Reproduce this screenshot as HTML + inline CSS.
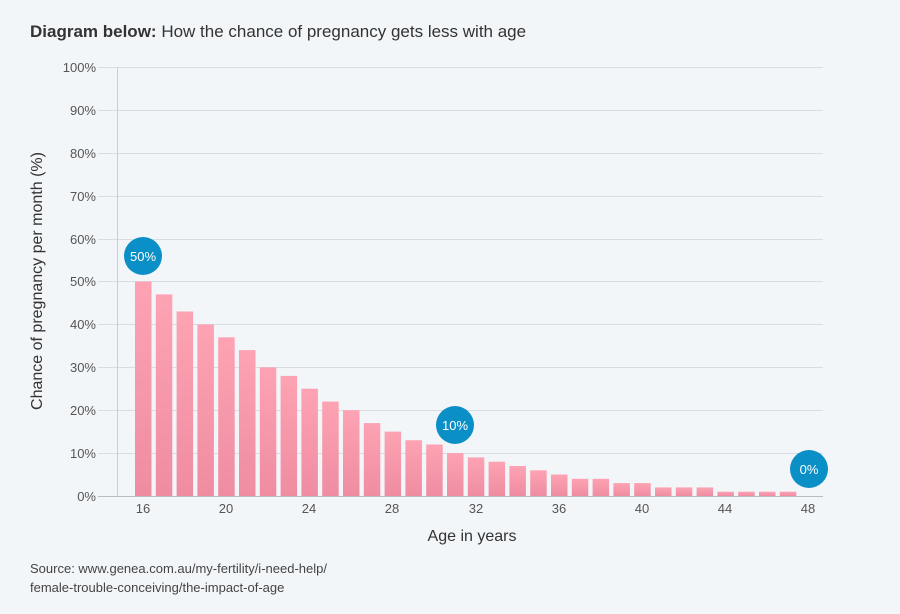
<!DOCTYPE html><html><head><style>body{margin:0;background:#f3f6f9;font-family:"Liberation Sans",sans-serif}</style></head><body>
<svg width="900" height="614" xmlns="http://www.w3.org/2000/svg" font-family="Liberation Sans, sans-serif" style="display:block">
<defs><linearGradient id="g" x1="0" y1="0" x2="0" y2="1"><stop offset="0" stop-color="#fda3b3"/><stop offset="1" stop-color="#ef8ca2"/></linearGradient></defs>
<rect width="900" height="614" fill="#f3f6f9"/>
<text x="30" y="37" font-size="17" fill="#333"><tspan font-weight="bold">Diagram below:</tspan> How the chance of pregnancy gets less with age</text>
<g stroke="#d9dde2" stroke-width="1">
<line x1="98" x2="823" y1="67.5" y2="67.5"/><line x1="98" x2="823" y1="110.5" y2="110.5"/><line x1="98" x2="823" y1="153.5" y2="153.5"/><line x1="98" x2="823" y1="196.5" y2="196.5"/><line x1="98" x2="823" y1="239.5" y2="239.5"/><line x1="98" x2="823" y1="281.5" y2="281.5"/><line x1="98" x2="823" y1="324.5" y2="324.5"/><line x1="98" x2="823" y1="367.5" y2="367.5"/><line x1="98" x2="823" y1="410.5" y2="410.5"/><line x1="98" x2="823" y1="453.5" y2="453.5"/></g>
<line x1="98" x2="823" y1="496.5" y2="496.5" stroke="#bbb"/>
<line x1="117.5" x2="117.5" y1="67" y2="496" stroke="#ccc"/>
<g font-size="13" fill="#555" text-anchor="end">
<text x="96" y="72">100%</text><text x="96" y="115">90%</text><text x="96" y="158">80%</text><text x="96" y="201">70%</text><text x="96" y="244">60%</text><text x="96" y="286">50%</text><text x="96" y="329">40%</text><text x="96" y="372">30%</text><text x="96" y="415">20%</text><text x="96" y="458">10%</text><text x="96" y="501">0%</text></g>
<g fill="url(#g)">
<rect x="135.0" y="281.5" width="16.5" height="214.5"/>
<rect x="155.8" y="294.4" width="16.5" height="201.6"/>
<rect x="176.6" y="311.5" width="16.5" height="184.5"/>
<rect x="197.4" y="324.4" width="16.5" height="171.6"/>
<rect x="218.2" y="337.3" width="16.5" height="158.7"/>
<rect x="239.0" y="350.1" width="16.5" height="145.9"/>
<rect x="259.8" y="367.3" width="16.5" height="128.7"/>
<rect x="280.6" y="375.9" width="16.5" height="120.1"/>
<rect x="301.4" y="388.7" width="16.5" height="107.3"/>
<rect x="322.2" y="401.6" width="16.5" height="94.4"/>
<rect x="343.0" y="410.2" width="16.5" height="85.8"/>
<rect x="363.8" y="423.1" width="16.5" height="72.9"/>
<rect x="384.6" y="431.6" width="16.5" height="64.4"/>
<rect x="405.4" y="440.2" width="16.5" height="55.8"/>
<rect x="426.2" y="444.5" width="16.5" height="51.5"/>
<rect x="447.0" y="453.1" width="16.5" height="42.9"/>
<rect x="467.8" y="457.4" width="16.5" height="38.6"/>
<rect x="488.6" y="461.7" width="16.5" height="34.3"/>
<rect x="509.4" y="466.0" width="16.5" height="30.0"/>
<rect x="530.2" y="470.3" width="16.5" height="25.7"/>
<rect x="551.0" y="474.5" width="16.5" height="21.5"/>
<rect x="571.8" y="478.8" width="16.5" height="17.2"/>
<rect x="592.6" y="478.8" width="16.5" height="17.2"/>
<rect x="613.4" y="483.1" width="16.5" height="12.9"/>
<rect x="634.2" y="483.1" width="16.5" height="12.9"/>
<rect x="655.0" y="487.4" width="16.5" height="8.6"/>
<rect x="675.8" y="487.4" width="16.5" height="8.6"/>
<rect x="696.6" y="487.4" width="16.5" height="8.6"/>
<rect x="717.4" y="491.7" width="16.5" height="4.3"/>
<rect x="738.2" y="491.7" width="16.5" height="4.3"/>
<rect x="759.0" y="491.7" width="16.5" height="4.3"/>
<rect x="779.8" y="491.7" width="16.5" height="4.3"/>
</g>
<g font-size="13" fill="#555" text-anchor="middle">
<text x="143" y="513">16</text><text x="226" y="513">20</text><text x="309" y="513">24</text><text x="392" y="513">28</text><text x="476" y="513">32</text><text x="559" y="513">36</text><text x="642" y="513">40</text><text x="725" y="513">44</text><text x="808" y="513">48</text></g>
<text x="472" y="541" font-size="16" fill="#333" text-anchor="middle">Age in years</text>
<text transform="translate(42,281) rotate(-90)" font-size="16" fill="#333" text-anchor="middle">Chance of pregnancy per month (%)</text>
<g fill="#0a8fc7"><circle cx="143" cy="256" r="19"/><circle cx="455" cy="425" r="19"/><circle cx="809" cy="469" r="19"/></g>
<g fill="#fff" font-size="13" text-anchor="middle"><text x="143" y="261">50%</text><text x="455" y="430">10%</text><text x="809" y="474">0%</text></g>
<text x="30" y="573" font-size="13" fill="#444">Source: www.genea.com.au/my-fertility/i-need-help/</text>
<text x="30" y="592" font-size="13" fill="#444">female-trouble-conceiving/the-impact-of-age</text>
</svg></body></html>
